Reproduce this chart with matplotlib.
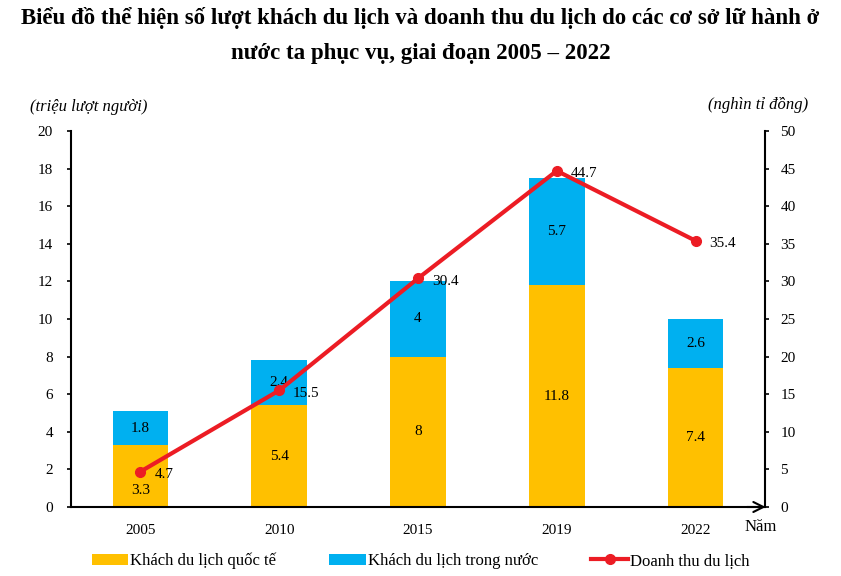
import matplotlib
matplotlib.use("Agg")
import matplotlib.pyplot as plt
import numpy as np

# Data
years = ["2005", "2010", "2015", "2019", "2022"]
intl = [3.3, 5.4, 8, 11.8, 7.4]        # Khách du lịch quốc tế (triệu lượt người)
domestic = [1.8, 2.4, 4, 5.7, 2.6]     # Khách du lịch trong nước
revenue = [4.7, 15.5, 30.4, 44.7, 35.4]  # Doanh thu du lịch (nghìn tỉ đồng)

plt.rcParams['font.family'] = ['Liberation Serif', 'DejaVu Serif']

YELLOW = '#FFC000'
BLUE = '#00B0F0'
RED = '#EC1C24'

fig = plt.figure(figsize=(8.41, 5.76), dpi=100)
ax = fig.add_axes([0.0844, 0.1198, 0.8252, 0.6528])
ax2 = ax.twinx()

x = np.arange(len(years))
w = 0.4
b1 = ax.bar(x, intl, w, color=YELLOW, label='Khách du lịch quốc tế', zorder=2)
b2 = ax.bar(x, domestic, w, bottom=intl, color=BLUE, label='Khách du lịch trong nước', zorder=2)

# the first yellow label sits lower so it clears the line label
nudge = {0: -0.75}
for i in range(len(years)):
    ax.text(x[i], intl[i] / 2 + nudge.get(i, 0), f"{intl[i]:g}", ha='center', va='center',
            fontsize=11, zorder=3)
    ax.text(x[i], intl[i] + domestic[i] / 2, f"{domestic[i]:g}", ha='center', va='center',
            fontsize=11, zorder=3)

ln, = ax2.plot(x, revenue, color=RED, lw=3, marker='o', ms=7, label='Doanh thu du lịch')
for i in range(len(years)):
    ax2.annotate(f"{revenue[i]:g}", (x[i], revenue[i]), xytext=(10, -2), textcoords='offset points',
                 ha='left', va='center', fontsize=11)

ax.set_xlim(-0.5, 4.5)
ax.set_ylim(0, 20)
ax.set_yticks(np.arange(0, 21, 2))
ax2.set_ylim(0, 50)
ax2.set_yticks(np.arange(0, 51, 5))
ax.set_xticks(x)
ax.set_xticklabels(years)

for a in (ax, ax2):
    a.spines['top'].set_visible(False)
    a.tick_params(labelsize=11, length=3, width=1.2, color='black')
    for s in a.spines.values():
        s.set_linewidth(1.5)
ax.spines['right'].set_visible(False)
ax2.spines['left'].set_visible(False)
ax2.spines['bottom'].set_visible(False)
ax.tick_params(axis='x', length=0, pad=12)
ax.tick_params(axis='y', pad=10)
ax2.tick_params(axis='y', pad=8)

# arrow at the end of the x axis
ax.annotate('', xy=(1.005, 0), xytext=(0.97, 0), xycoords='axes fraction',
            arrowprops=dict(arrowstyle='->', lw=1.5, color='black', mutation_scale=18))
fig.text(0.9045, 0.085, 'Năm', fontsize=12, ha='center', va='center')

fig.text(0.105, 0.814, '(triệu lượt người)', fontsize=12, style='italic', ha='center', va='center')
fig.text(0.901, 0.818, '(nghìn tỉ đồng)', fontsize=12, style='italic', ha='center', va='center')

fig.text(0.5, 0.968, 'Biểu đồ thể hiện số lượt khách du lịch và doanh thu du lịch do các cơ sở lữ hành ở',
         fontsize=16.5, weight='bold', ha='center', va='center')
fig.text(0.5, 0.907, 'nước ta phục vụ, giai đoạn 2005 – 2022',
         fontsize=16.5, weight='bold', ha='center', va='center')

fig.legend([b1, b2, ln], [b1.get_label(), b2.get_label(), ln.get_label()],
           loc='center', bbox_to_anchor=(0.5, 0.026), ncol=3, frameon=False, fontsize=12,
           handlelength=2.2, handletextpad=0.1, columnspacing=3.2)

fig.savefig('out.png', dpi=100)
